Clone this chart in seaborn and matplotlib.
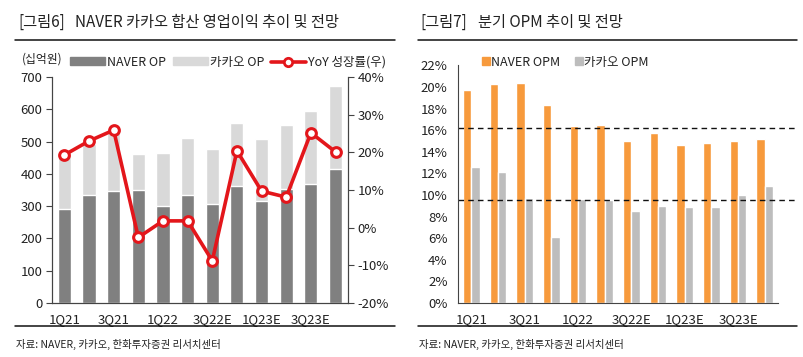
import numpy as np
import pandas as pd
import matplotlib
matplotlib.use('Agg')
import matplotlib.pyplot as plt
import matplotlib.ticker as mticker
from matplotlib.lines import Line2D
from matplotlib.patches import Patch
import seaborn as sns

########################################################
#                      DATA
########################################################
quarters = ['1Q21', '2Q21', '3Q21', '4Q21', '1Q22', '2Q22',
            '3Q22E', '4Q22E', '1Q23E', '2Q23E', '3Q23E', '4Q23E']
tick_labels = ['1Q21', '', '3Q21', '', '1Q22', '', '3Q22E', '', '1Q23E', '', '3Q23E', '']

# 영업이익 (십억원)
naver_op = [292, 335, 347, 350, 301, 335, 307, 362, 316, 353, 369, 415]
kakao_op = [171, 157, 179, 112, 165, 177, 171, 196, 193, 198, 225, 256]
# YoY 성장률 (%)
yoy = [19.3, 23.0, 25.9, -2.6, 1.8, 1.8, -8.8, 20.4, 9.7, 8.1, 25.2, 20.1]

# 분기 OPM (%)
naver_opm = [19.7, 20.25, 20.35, 18.3, 16.4, 16.5, 14.95, 15.75, 14.65, 14.85, 14.95, 15.2]
kakao_opm = [12.6, 12.1, 9.75, 6.15, 9.65, 9.5, 8.55, 9.0, 8.9, 8.9, 10.0, 10.85]
opm_ref = [16.2, 9.5]

########################################################
#                      STYLE
########################################################
sns.set_style('white')
plt.rcParams['font.family'] = ['Noto Sans CJK KR', 'DejaVu Sans']
plt.rcParams['axes.unicode_minus'] = False

dark = '#808080'
light = '#d9d9d9'
red = '#e3161b'
orange = '#f79a3c'
gray = '#bdbdbd'
txt = '#222222'

fig = plt.figure(figsize=(8.04, 3.57), dpi=100)

########################################################
#              LEFT: 합산 영업이익
########################################################
ax = fig.add_axes([0.0647, 0.1513, 0.368, 0.633])
total_op = [n + k for n, k in zip(naver_op, kakao_op)]
sns.barplot(x=quarters, y=total_op, color=light, width=0.53, ax=ax, saturation=1)
sns.barplot(x=quarters, y=naver_op, color=dark, width=0.53, ax=ax, saturation=1)
ax.set_ylim(0, 700)
ax.set_yticks(range(0, 701, 100))

ax2 = ax.twinx()
sns.lineplot(x=np.arange(len(yoy)), y=yoy, ax=ax2, color=red, lw=2.6,
             marker='o', markersize=7, markerfacecolor='white',
             markeredgecolor=red, markeredgewidth=2.2)
ax2.set_ylim(-20, 40)
ax2.set_yticks(range(-20, 41, 10))
ax2.yaxis.set_major_formatter(mticker.FuncFormatter(lambda v, p: f'{v:.0f}%'))
ax.set_xlim(-0.5, 11.5)

for a in (ax, ax2):
    a.spines['top'].set_visible(False)
    for s in ('left', 'right', 'bottom'):
        a.spines[s].set_color('#444444')
        a.spines[s].set_linewidth(0.8)
    a.set_xlabel('')
    a.set_ylabel('')
    a.tick_params(axis='y', length=4, width=0.8, color='#444444',
                  labelsize=9.5, labelcolor=txt, pad=3)

ax.set_xticks(range(12))
ax.set_xticklabels(tick_labels)
ax.set_xticks(np.arange(-0.5, 12, 1), minor=True)
ax.tick_params(axis='x', which='major', length=0, labelsize=9.5, labelcolor=txt, pad=7)
ax.tick_params(axis='x', which='minor', length=4, width=0.8, color='#444444')

handles = [Patch(color=dark), Patch(color=light),
           Line2D([], [], color=red, lw=2.6, marker='o', markersize=6,
                  markerfacecolor='white', markeredgecolor=red, markeredgewidth=2)]
fig.legend(handles, ['NAVER OP', '카카오 OP', 'YoY 성장률(우)'], ncol=3,
           loc='center left', bbox_to_anchor=(0.079, 0.826), frameon=False,
           fontsize=9, handlelength=2.8, handleheight=0.55, handletextpad=0.2,
           columnspacing=0.5, borderpad=0, labelcolor=txt)
fig.text(22 / 804, 0.835, '(십억원)', fontsize=8.5, color=txt, va='center')

########################################################
#                 RIGHT: 분기 OPM
########################################################
bx = fig.add_axes([0.5697, 0.1513, 0.398, 0.6658])
opm = pd.DataFrame({'quarter': quarters * 2,
                    'opm': naver_opm + kakao_opm,
                    'series': ['NAVER OPM'] * 12 + ['카카오 OPM'] * 12})
sns.barplot(data=opm, x='quarter', y='opm', hue='series', palette=[orange, gray],
            width=0.63, gap=0, ax=bx, saturation=1, legend=False)
bx.set_ylim(0, 22)
bx.set_yticks(range(0, 23, 2))
bx.yaxis.set_major_formatter(mticker.FuncFormatter(lambda v, p: f'{v:.0f}%'))
bx.set_xlim(-0.5, 11.5)
for r in opm_ref:
    bx.plot([0, 1.06], [r, r], transform=bx.get_yaxis_transform(), clip_on=False,
            color='#111111', lw=1, ls=(0, (4, 3)))

bx.spines['top'].set_visible(False)
bx.spines['right'].set_visible(False)
for s in ('left', 'bottom'):
    bx.spines[s].set_color('#444444')
    bx.spines[s].set_linewidth(0.8)
bx.set_xlabel('')
bx.set_ylabel('')
bx.tick_params(axis='y', length=4, width=0.8, color='#444444', labelsize=9.5, labelcolor=txt)
bx.set_xticks(range(12))
bx.set_xticklabels(tick_labels)
bx.set_xticks(np.arange(-0.5, 12, 1), minor=True)
bx.tick_params(axis='x', which='major', length=0, labelsize=9.5, labelcolor=txt, pad=7)
bx.tick_params(axis='x', which='minor', length=4, width=0.8, color='#444444')

fig.legend([Patch(color=orange), Patch(color=gray)], ['NAVER OPM', '카카오 OPM'], ncol=2,
           loc='center left', bbox_to_anchor=(476 / 804, 0.826), frameon=False,
           fontsize=9, handlelength=0.6, handleheight=0.6, handletextpad=0.1,
           columnspacing=1.2, borderpad=0, labelcolor=txt)

########################################################
#                 TITLES / RULES / SOURCE
########################################################
fig.text(18 / 804, 0.938, '[그림6]', fontsize=11, color=txt, va='center')
fig.text(75 / 804, 0.938, 'NAVER 카카오 합산 영업이익 추이 및 전망', fontsize=11, color=txt, va='center')
fig.text(420 / 804, 0.938, '[그림7]', fontsize=11, color=txt, va='center')
fig.text(478 / 804, 0.938, '분기 OPM 추이 및 전망', fontsize=11, color=txt, va='center')

for x0, x1 in ((15, 395), (418, 797)):
    fig.add_artist(Line2D([x0 / 804, x1 / 804], [0.888, 0.888], color='#111111', lw=1.1))
    fig.add_artist(Line2D([x0 / 804, x1 / 804], [0.087, 0.087], color='#111111', lw=1.1))
    fig.text((x0 + 1) / 804, 0.036, '자료: NAVER, 카카오, 한화투자증권 리서치센터',
             fontsize=7.5, color=txt, va='center')

fig.savefig('out.png', dpi=100)
